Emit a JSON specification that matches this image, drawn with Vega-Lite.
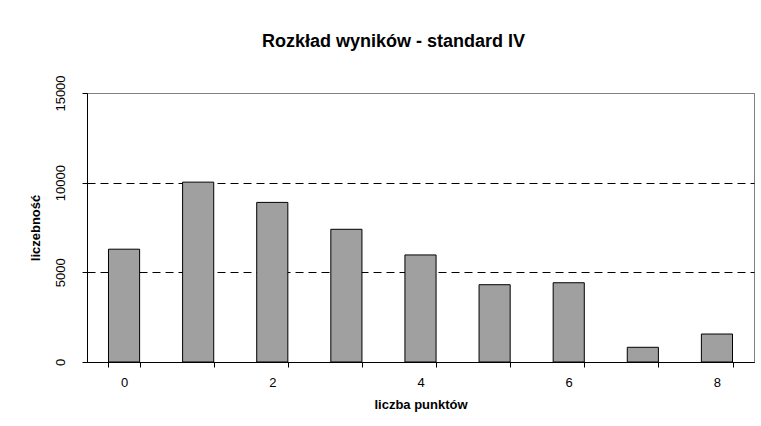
{
  "$schema": "https://vega.github.io/schema/vega-lite/v6.json",
  "width": 667,
  "height": 269,
  "autosize": {"type": "none"},
  "padding": {"left": 87, "top": 93, "right": 7, "bottom": 64},
  "background": "white",
  "title": {
    "text": "Rozkład wyników - standard IV",
    "font": "Liberation Sans",
    "fontSize": 18,
    "fontWeight": "bold",
    "color": "black",
    "anchor": "middle",
    "frame": "group",
    "dx": -27,
    "offset": 24
  },
  "data": {
    "values": [
      {"punkty": 0, "liczebnosc": 6290},
      {"punkty": 1, "liczebnosc": 10030},
      {"punkty": 2, "liczebnosc": 8900},
      {"punkty": 3, "liczebnosc": 7400},
      {"punkty": 4, "liczebnosc": 5970},
      {"punkty": 5, "liczebnosc": 4310},
      {"punkty": 6, "liczebnosc": 4420},
      {"punkty": 7, "liczebnosc": 820},
      {"punkty": 8, "liczebnosc": 1560}
    ]
  },
  "mark": {"type": "bar", "fill": "#a0a0a0", "stroke": "black", "strokeWidth": 1},
  "encoding": {
    "x": {
      "field": "punkty",
      "type": "ordinal",
      "scale": {"paddingInner": 0.58, "paddingOuter": 0.29},
      "axis": {
        "title": "liczba punktów",
        "labelAngle": 0,
        "tickBand": "extent",
        "labelExpr": "datum.value % 2 == 0 ? datum.label : ''",
        "labelPadding": 9,
        "titlePadding": 9
      }
    },
    "y": {
      "field": "liczebnosc",
      "type": "quantitative",
      "scale": {"domain": [0, 15000], "nice": false},
      "axis": {
        "title": "liczebność",
        "values": [0, 5000, 10000, 15000],
        "format": "d",
        "domain": true,
        "labelAngle": 270,
        "labelAlign": "center",
        "labelBaseline": "middle",
        "labelPadding": 22,
        "titlePadding": 12,
        "grid": true,
        "gridDash": [8, 5],
        "gridColor": {"condition": {"test": "datum.value == 15000", "value": "#808080"}, "value": "#000000"}
      }
    }
  },
  "config": {
    "font": "Liberation Sans",
    "view": {"stroke": "#808080", "strokeWidth": 1},
    "axis": {
      "domainColor": "black",
      "tickColor": "black",
      "tickSize": 5,
      "labelColor": "black",
      "labelFont": "Liberation Sans",
      "labelFontSize": 13,
      "titleFont": "Liberation Sans",
      "titleFontSize": 13,
      "titleFontWeight": "bold",
      "titleColor": "black"
    },
    "axisX": {"grid": false}
  }
}
